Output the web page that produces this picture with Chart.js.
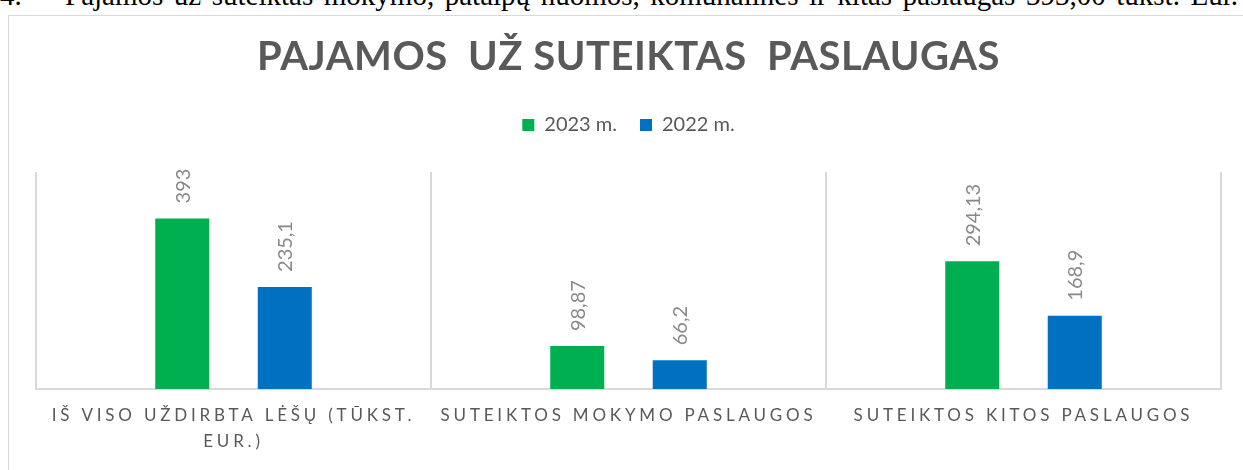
<!DOCTYPE html>
<html>
<head>
<meta charset="utf-8">
<script src="https://cdn.jsdelivr.net/npm/chart.js@4"></script>
<style>
html,body{margin:0;padding:0;background:#fff;overflow:hidden;}
#wrap{position:relative;width:1243px;height:470px;overflow:hidden;}
.doc{position:absolute;top:-21px;font:29px "Liberation Serif",serif;color:#000;white-space:nowrap;}
#docn{left:0;}
#doct{left:65px;width:1173px;text-align:justify;text-align-last:justify;white-space:normal;}
#frame{position:absolute;left:8px;top:15px;width:1250px;height:470px;border:1px solid #d9d9d9;box-sizing:border-box;}
canvas{position:absolute;left:0;top:0;}
</style>
</head>
<body>
<div id="wrap">
<div class="doc" id="docn">4.</div>
<div class="doc" id="doct">Pajamos už suteiktas mokymo, patalpų nuomos, komunalines ir kitas paslaugas 393,00 tūkst. Eur.</div>
<div id="frame"></div>
<canvas id="c" width="1243" height="470"></canvas>
</div>
<script>
const categories = [
  ["IŠ VISO UŽDIRBTA LĖŠŲ (TŪKST.", "EUR.)"],
  "SUTEIKTOS MOKYMO PASLAUGOS",
  "SUTEIKTOS KITOS PASLAUGOS"
];
const seriesNames = ["2023 m.", "2022 m."];
const values2023 = [393, 98.87, 294.13];
const values2022 = [235.1, 66.2, 168.9];
const chartTitle = "PAJAMOS  UŽ SUTEIKTAS  PASLAUGAS";

const FONT = "Lato, 'Open Sans', sans-serif";
const fmt = v => String(v).replace('.', ',');

const dataLabels = {
  id: 'dataLabels',
  afterDatasetsDraw(chart) {
    const ctx = chart.ctx;
    chart.data.datasets.forEach((ds, i) => {
      const meta = chart.getDatasetMeta(i);
      meta.data.forEach((bar, j) => {
        ctx.save();
        ctx.translate(bar.x, bar.y - 15);
        ctx.rotate(-Math.PI / 2);
        ctx.textAlign = 'left';
        ctx.textBaseline = 'middle';
        ctx.fillStyle = '#888888';
        ctx.font = '20px ' + FONT;
        ctx.fillText(fmt(ds.data[j]), 0, 1);
        ctx.restore();
      });
    });
  }
};

const spacing = {
  id: 'spacing',
  afterUpdate(chart) {
    const sx = chart.scales.x;
    if (sx && !sx._wrapped) {
      const orig = sx.drawLabels.bind(sx);
      sx.drawLabels = function (area) {
        const ctx = this.ctx;
        ctx.save();
        ctx.letterSpacing = '3.8px';
        orig(area);
        ctx.restore();
      };
      sx._wrapped = true;
    }
    const tb = chart.titleBlock;
    if (tb && !tb._wrapped) {
      const o = tb.draw.bind(tb);
      tb.draw = function () {
        const ctx = this.ctx;
        ctx.save();
        ctx.letterSpacing = '0.5px';
        o();
        ctx.restore();
      };
      tb._wrapped = true;
    }
  }
};

new Chart(document.getElementById('c'), {
  type: 'bar',
  data: {
    labels: categories,
    datasets: [
      { label: seriesNames[0], data: values2023, backgroundColor: '#00B050', borderWidth: 0 },
      { label: seriesNames[1], data: values2022, backgroundColor: '#0070C0', borderWidth: 0 }
    ]
  },
  options: {
    responsive: false,
    animation: false,
    devicePixelRatio: 1,
    layout: { padding: { left: 36, right: 22, top: 0, bottom: 2 } },
    datasets: { bar: { categoryPercentage: 0.519, barPercentage: 0.527 } },
    scales: {
      x: {
        grid: { display: true, offset: true, color: '#d9d9d9', lineWidth: 2, drawTicks: false },
        border: { display: true, color: '#d9d9d9', width: 2 },
        ticks: {
          color: '#595959', padding: 14, maxRotation: 0, autoSkip: false,
          font: { family: FONT, size: 17, lineHeight: 1.5 }
        }
      },
      xTopGap: {
        type: 'category', position: 'top', display: true,
        grid: { display: false, drawTicks: false },
        border: { display: false },
        ticks: { display: false },
        afterFit(scale) { scale.height = 27; }
      },
      y: { display: false, min: 0, max: 500 }
    },
    plugins: {
      title: {
        display: true, text: chartTitle, color: '#595959',
        font: { family: FONT, size: 40, weight: 'bold', lineHeight: 1.1 },
        padding: { top: 35, bottom: 13 }
      },
      legend: {
        display: true, position: 'top',
        labels: {
          color: '#595959', boxWidth: 12, boxHeight: 12, padding: 23,
          font: { family: FONT, size: 20 }
        }
      },
      tooltip: { enabled: false }
    }
  },
  plugins: [dataLabels, spacing]
});
</script>
</body>
</html>
